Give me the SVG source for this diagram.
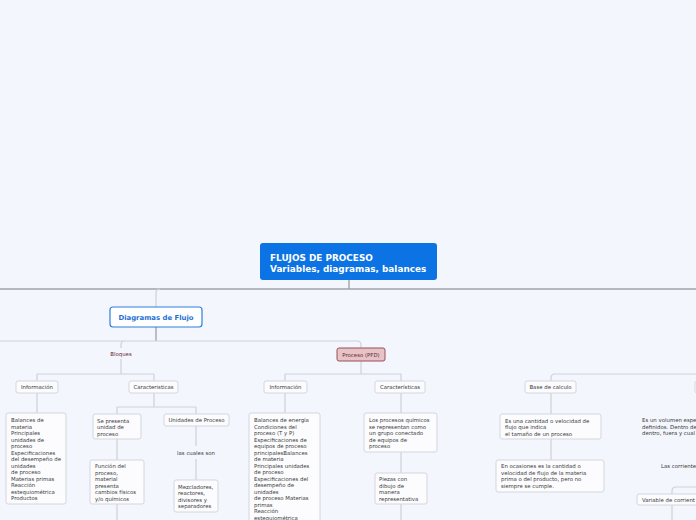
<svg xmlns="http://www.w3.org/2000/svg" width="696" height="520" viewBox="0 0 696 520">
<style>
text{font-family:"DejaVu Sans",Verdana,sans-serif;font-size:5.4px;fill:#3a3a3a}
.t{font-weight:bold;font-size:8.9px;fill:#ffffff}
.d{font-weight:bold;font-size:6.9px;fill:#1f6fd6}
.m{text-anchor:middle}
.r{fill:#6b2434}
.box{fill:#fcfcfe;stroke:#d4d6dd;stroke-width:1}
.main{fill:none;stroke:#a4a4a8;stroke-width:1.4}
.sub{fill:none;stroke:#cfd1d8;stroke-width:1.2}
</style>
<rect width="696" height="520" fill="#f3f6fd"/>
<g id="connectors">
<path class="main" d="M349,280V289M0,289H696M156,327V341"/>
<path class="sub" d="M160,289Q156,289 156,293V307"/>
<path class="sub" d="M0,341H357Q361,341 361,345V348M125,341Q121,341 121,345V348M121,359V374M37,374H154M37,374V381M154,374V381M37,393V413M154,393V407M117,407H196M117,407V414M196,407V414M117,439V460M117,504V520M196,426V446M196,459V480"/>
<path class="sub" d="M361,361V374M285,374H401M285,374V381M401,374V381M285,393V413M401,393V413M401,452V473M401,504V520"/>
<path class="sub" d="M696,374H555Q551,374 551,378V381M551,393V414M551,439V460M696,487H676Q672,487 672,491V494M672,505V520"/>
</g>
<g id="root">
<rect x="260" y="243" width="177" height="37" rx="3" fill="#0b73e4"/>
<text class="t" x="270" y="261">FLUJOS DE PROCESO</text>
<text class="t" x="270" y="272">Variables, diagramas, balances</text>
</g>
<g id="diagramas">
<rect x="110" y="307" width="92" height="20" rx="3" fill="#ffffff" stroke="#2f7fe0" stroke-width="1.2"/>
<text class="d m" x="156" y="319.5">Diagramas de Flujo</text>
</g>
<g id="bloques"><text class="r m" x="121" y="356">Bloques</text></g>
<g id="proceso-pfd">
<rect x="337" y="348" width="48" height="13" rx="2" fill="#e6c3c7" stroke="#9c4e58" stroke-width="1"/>
<text class="r m" x="361" y="356.5">Proceso (PFD)</text>
</g>
<g id="info-bloques">
<rect class="box" x="16" y="381" width="42" height="12" rx="2"/>
<text class="m" x="37" y="389">Información</text>
</g>
<g id="carac-bloques">
<rect class="box" x="129" y="381" width="49" height="12" rx="2"/>
<text class="m" x="153.5" y="389">Caracteristicas</text>
</g>
<g id="info-bloques-list">
<rect class="box" x="6" y="413" width="60" height="91" rx="2"/>
<text x="11" y="422">Balances de</text>
<text x="11" y="428.5">materia</text>
<text x="11" y="435">Principales</text>
<text x="11" y="441.5">unidades de</text>
<text x="11" y="448">proceso</text>
<text x="11" y="454.5">Especificaciones</text>
<text x="11" y="461">del desempeño de</text>
<text x="11" y="467.5">unidades</text>
<text x="11" y="474">de proceso</text>
<text x="11" y="480.5">Materias primas</text>
<text x="11" y="487">Reacción</text>
<text x="11" y="493.5">estequiométrica</text>
<text x="11" y="500">Productos</text>
</g>
<g id="se-presenta">
<rect class="box" x="93" y="414" width="48" height="25" rx="2"/>
<text x="97" y="422.5">Se presenta</text>
<text x="97" y="429">unidad de</text>
<text x="97" y="435.5">proceso</text>
</g>
<g id="unidades-proceso">
<rect class="box" x="164" y="414" width="65" height="12" rx="2"/>
<text class="m" x="196.5" y="422">Unidades de Proceso</text>
</g>
<g id="funcion">
<rect class="box" x="90" y="460" width="54" height="44" rx="2"/>
<text x="95" y="468">Función del</text>
<text x="95" y="474.5">proceso,</text>
<text x="95" y="481">material</text>
<text x="95" y="487.5">presenta</text>
<text x="95" y="494">cambios físicos</text>
<text x="95" y="500.5">y/o químicos</text>
</g>
<g id="cuales-son"><text class="m" x="196" y="455">las cuales son</text></g>
<g id="mezcladores">
<rect class="box" x="174" y="480" width="44" height="32" rx="2"/>
<text x="178" y="488.5">Mezcladores,</text>
<text x="178" y="495">reactores,</text>
<text x="178" y="501.5">divisores y</text>
<text x="178" y="508">separadores</text>
</g>
<g id="info-pfd">
<rect class="box" x="264" y="381" width="43" height="12" rx="2"/>
<text class="m" x="285.5" y="389">Información</text>
</g>
<g id="carac-pfd">
<rect class="box" x="375" y="381" width="50" height="12" rx="2"/>
<text class="m" x="400" y="389">Características</text>
</g>
<g id="info-pfd-list">
<rect class="box" x="249" y="413" width="71" height="120" rx="2"/>
<text x="254" y="422">Balances de energía</text>
<text x="254" y="428.5">Condiciones del</text>
<text x="254" y="435">proceso (T y P)</text>
<text x="254" y="441.5">Especificaciones de</text>
<text x="254" y="448">equipos de proceso</text>
<text x="254" y="454.5">principalesBalances</text>
<text x="254" y="461">de materia</text>
<text x="254" y="467.5">Principales unidades</text>
<text x="254" y="474">de proceso</text>
<text x="254" y="480.5">Especificaciones del</text>
<text x="254" y="487">desempeño de</text>
<text x="254" y="493.5">unidades</text>
<text x="254" y="500">de proceso Materias</text>
<text x="254" y="506.5">primas</text>
<text x="254" y="513">Reacción</text>
<text x="254" y="519.5">estequiométrica</text>
</g>
<g id="procesos-quimicos">
<rect class="box" x="364" y="413" width="73" height="39" rx="2"/>
<text x="369" y="422">Los procesos químicos</text>
<text x="369" y="428.5">se representan como</text>
<text x="369" y="435">un grupo conectado</text>
<text x="369" y="441.5">de equipos de</text>
<text x="369" y="448">proceso</text>
</g>
<g id="piezas">
<rect class="box" x="375" y="473" width="52" height="31" rx="2"/>
<text x="379" y="481">Piezas con</text>
<text x="379" y="487.5">dibujo de</text>
<text x="379" y="494">manera</text>
<text x="379" y="500.5">representativa</text>
</g>
<g id="base-calculo">
<rect class="box" x="525" y="381" width="51" height="12" rx="2"/>
<text class="m" x="550.5" y="389">Base de calculo</text>
</g>
<g id="cantidad">
<rect class="box" x="500" y="414" width="101" height="25" rx="2"/>
<text x="505" y="422.5">Es una cantidad o velocidad de</text>
<text x="505" y="429">flujo que indica</text>
<text x="505" y="435.5">el tamaño de un proceso</text>
</g>
<g id="ocasiones">
<rect class="box" x="496" y="460" width="108" height="32" rx="2"/>
<text x="501" y="468">En ocasiones es la cantidad o</text>
<text x="501" y="474.5">velocidad de flujo de la materia</text>
<text x="501" y="481">prima o del producto, pero no</text>
<text x="501" y="487.5">siempre se cumple.</text>
</g>
<g id="right-node">
<rect class="box" x="695" y="381" width="60" height="12" rx="2"/>
</g>
<g id="volumen">
<text x="642" y="422">Es un volumen espe</text>
<text x="642" y="428.5">definidos. Dentro de</text>
<text x="642" y="435">dentro, fuera y cual</text>
</g>
<g id="corrientes"><text x="661" y="468">Las corriente</text></g>
<g id="variable-corriente">
<rect class="box" x="637" y="494" width="80" height="11" rx="2"/>
<text x="642" y="501.8">Variable de corrient</text>
</g>
</svg>
